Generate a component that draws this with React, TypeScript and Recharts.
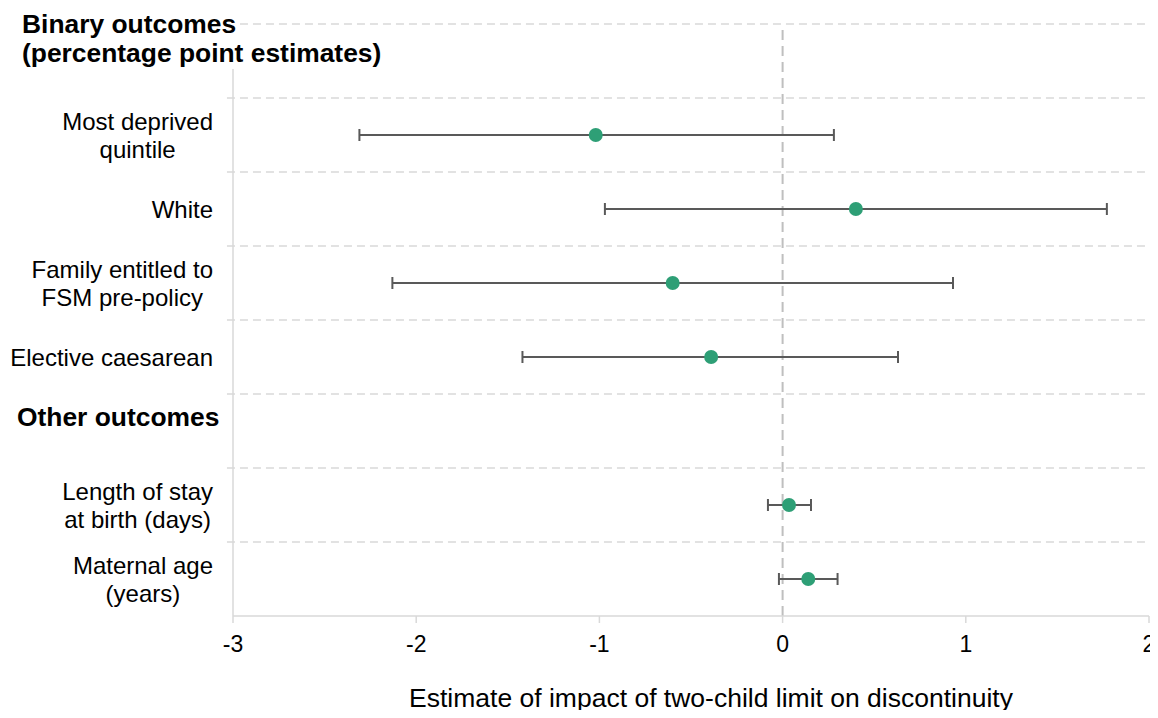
import React, { useLayoutEffect } from "react";
import {
  ScatterChart,
  Scatter,
  XAxis,
  YAxis,
  ReferenceLine,
  ErrorBar,
  Label,
} from "recharts";

// ---- data ---------------------------------------------------------------
const groupTitles: string[][] = [
  ["Binary outcomes", "(percentage point estimates)"],
  ["Other outcomes"],
];
const groupSizes = [4, 2];

const outcomeLabels: string[][] = [
  ["Most deprived", "quintile"],
  ["White"],
  ["Family entitled to", "FSM pre-policy"],
  ["Elective caesarean"],
  ["Length of stay", "at birth (days)"],
  ["Maternal age", "(years)"],
];
const estimates = [-1.02, 0.4, -0.6, -0.39, 0.035, 0.14];
const lowerBounds = [-2.31, -0.97, -2.13, -1.42, -0.08, -0.02];
const upperBounds = [0.28, 1.77, 0.93, 0.63, 0.155, 0.3];

const xTicks = [-3, -2, -1, 0, 1, 2];
const xTitle = "Estimate of impact of two-child limit on discontinuity";

// ---- row layout built from the arrays above -----------------------------
type Row = { kind: "group" | "outcome"; lines: string[]; ref: number };
const rows: Row[] = [];
{
  let k = 0;
  groupTitles.forEach((title, g) => {
    rows.push({ kind: "group", lines: title, ref: g });
    for (let j = 0; j < groupSizes[g]; j++) {
      rows.push({ kind: "outcome", lines: outcomeLabels[k], ref: k });
      k++;
    }
  });
}
const rowCount = rows.length;
const rowCentres = rows.map((_, i) => i + 0.5);
const rowEdges = Array.from({ length: rowCount + 1 }, (_, i) => i);

const points = rows.flatMap((r, i) =>
  r.kind === "outcome"
    ? [
        {
          row: i + 0.5,
          est: estimates[r.ref],
          ci: [estimates[r.ref] - lowerBounds[r.ref], upperBounds[r.ref] - estimates[r.ref]],
        },
      ]
    : []
);

// ---- styling -------------------------------------------------------------
const FONT = '"Liberation Sans", Arial, Helvetica, sans-serif';
const LABEL_SIZE = 24;
const HEADER_SIZE = 26.4;
const TICK_SIZE = 23;
const TITLE_SIZE = 26.5;
const GREEN = "#2e9f76";
const BAR_GREY = "#595959";
const GRID_GREY = "#d9d9d9";
const ZERO_GREY = "#bfbfbf";
const headerIndent = [22, 17];
const X_MIN = xTicks[0];
const X_MAX = xTicks[xTicks.length - 1];
// grid lines poke a few pixels out to the left of the y axis
const GRID_STUB = 0.033;

let measureCtx: CanvasRenderingContext2D | null = null;
function textWidth(s: string, size: number, bold = false): number {
  if (!measureCtx) measureCtx = document.createElement("canvas").getContext("2d");
  if (!measureCtx) return s.length * size * 0.5;
  measureCtx.font = `${bold ? "bold " : ""}${size}px "Liberation Sans", Arial, sans-serif`;
  return measureCtx.measureText(s).width;
}

// Row label: bold left-aligned group headings, centred multi-line outcome names
const RowLabel = (props: any) => {
  const { x, y, payload } = props;
  const idx = Math.floor(Number(payload?.value));
  const row = rows[idx];
  if (!row) return <g />;
  const n = row.lines.length;
  if (row.kind === "group") {
    const left = headerIndent[row.ref] ?? 20;
    const first = y - 5 - (n - 1) * 23;
    return (
      <g>
        {row.lines.map((t, i) => {
          const base = first + i * 29;
          const w = textWidth(t, HEADER_SIZE, true);
          return (
            <g key={i}>
              <rect x={left - 2} y={base - 22} width={w + 4} height={29} fill="#ffffff" />
              <text
                x={left}
                y={base}
                fontFamily={FONT}
                fontSize={HEADER_SIZE}
                fontWeight="bold"
                fill="#000"
              >
                {t}
              </text>
            </g>
          );
        })}
      </g>
    );
  }
  const widest = Math.max(...row.lines.map((t) => textWidth(t, LABEL_SIZE)));
  const cx = x - widest / 2;
  const first = y + 8.6 - (n - 1) * 14;
  return (
    <g>
      {row.lines.map((t, i) => (
        <text
          key={i}
          x={cx}
          y={first + i * 28}
          textAnchor="middle"
          fontFamily={FONT}
          fontSize={LABEL_SIZE}
          fill="#000"
        >
          {t}
        </text>
      ))}
    </g>
  );
};

const AxisTitle = (props: any) => {
  const vb = props.viewBox || {};
  return (
    <text
      x={vb.x + vb.width / 2 + 20}
      y={vb.y + 91}
      textAnchor="middle"
      fontFamily={FONT}
      fontSize={TITLE_SIZE}
      fill="#000"
    >
      {xTitle}
    </text>
  );
};

const Dot = (p: any) => <circle cx={p.cx} cy={p.cy} r={7} fill={GREEN} />;

const W = 1158;
const H = 718;

export default function App() {
  useLayoutEffect(() => {
    document.body.style.overflow = "hidden";
  }, []);
  return (
    // cancel the page's default body margin so the chart fills the window
    <div style={{ width: W, height: H, margin: -8 }}>
      <ScatterChart
        width={W}
        height={H}
        margin={{ top: 24, right: 9, bottom: 0, left: 0 }}
      >
        {rowEdges.slice(0, -1).map((v) => (
          <ReferenceLine
            key={`edge-${v}`}
            segment={[
              { x: X_MIN - GRID_STUB, y: v },
              { x: X_MAX, y: v },
            ]}
            ifOverflow="visible"
            stroke={GRID_GREY}
            strokeWidth={1.5}
            strokeDasharray="8 5"
          />
        ))}
        <XAxis
          type="number"
          dataKey="est"
          domain={[X_MIN, X_MAX]}
          ticks={xTicks}
          interval={0}
          allowDataOverflow
          height={102}
          stroke={GRID_GREY}
          strokeWidth={1.5}
          tickSize={7}
          tickMargin={13}
          tick={{ fontSize: TICK_SIZE, fill: "#000", fontFamily: FONT }}
        >
          <Label content={<AxisTitle />} />
        </XAxis>
        <YAxis
          type="number"
          dataKey="row"
          domain={[0, rowCount]}
          ticks={rowCentres}
          interval={0}
          reversed
          allowDataOverflow
          width={233}
          stroke={GRID_GREY}
          strokeWidth={1.5}
          tickLine={false}
          tickSize={0}
          tickMargin={20}
          tick={<RowLabel />}
        />
        <ReferenceLine
          x={0}
          stroke={ZERO_GREY}
          strokeWidth={2}
          strokeDasharray="10 6"
        />
        <Scatter data={points} shape={<Dot />} isAnimationActive={false}>
          <ErrorBar
            dataKey="ci"
            direction="x"
            width={6}
            stroke={BAR_GREY}
            strokeWidth={2}
            isAnimationActive={false}
          />
        </Scatter>
      </ScatterChart>
    </div>
  );
}
